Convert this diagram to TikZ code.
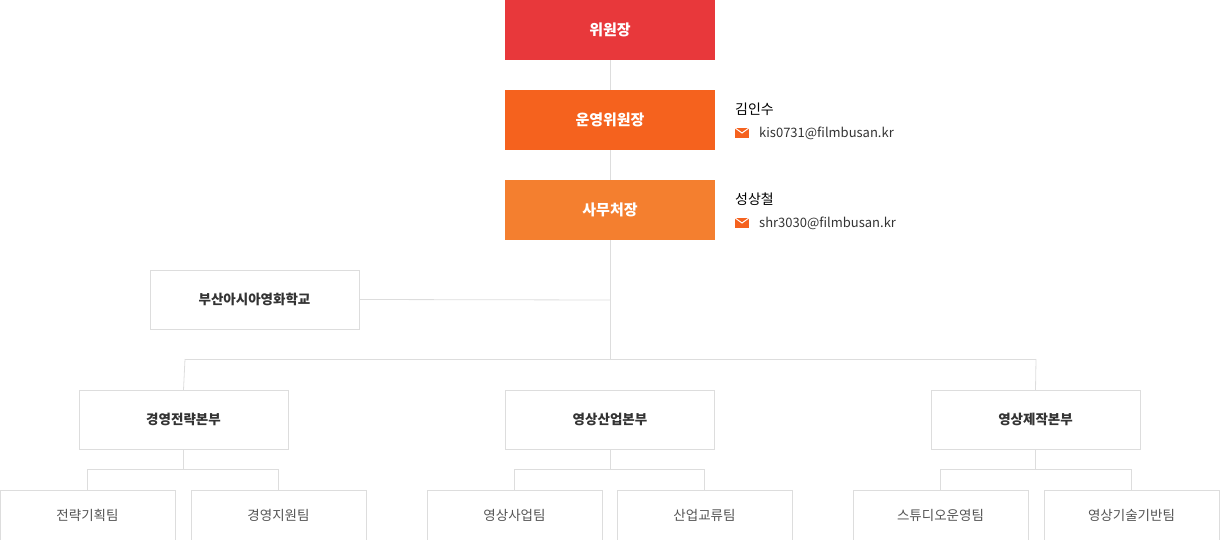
\documentclass[tikz,border=0pt]{standalone}
\usepackage{fontspec}
\setmainfont{Noto Sans CJK KR}
\definecolor{cred}{HTML}{E8383B}
\definecolor{corg}{HTML}{F5621E}
\definecolor{corg2}{HTML}{F47F2F}
\definecolor{cline}{HTML}{DDDDDD}
\definecolor{ctxt}{HTML}{333333}
\definecolor{cgray}{HTML}{555555}
\begin{document}
\begin{tikzpicture}[x=1pt,y=-1pt,
  top/.style={minimum width=210pt,minimum height=60pt,inner sep=0,text=white,font=\fontsize{15}{18}\selectfont\bfseries},
  mid/.style={draw=cline,fill=white,minimum width=209pt,minimum height=59pt,inner sep=0,text=ctxt,font=\fontsize{13.5}{16}\selectfont\bfseries},
  bot/.style={draw=cline,fill=white,minimum width=175pt,minimum height=50pt,inner sep=0,text=cgray,font=\fontsize{13.5}{16}\selectfont},
  ln/.style={draw=cline,line width=0.8pt},
  nm/.style={anchor=west,inner sep=0,text=black,font=\fontsize{14}{16}\selectfont},
  em/.style={anchor=west,inner sep=0,text=ctxt,font=\fontsize{13}{15}\selectfont},
  env/.style={fill=corg,minimum width=14pt,minimum height=10pt,inner sep=0}]
\useasboundingbox (0,0) rectangle (1220,540);
\coordinate (jS) at (610,300);
\coordinate (jH) at (610,359);
\coordinate (hL) at (185,359);
\coordinate (hR) at (1036,359);
\draw[ln] (610,60) -- (jH);
\draw[ln] (hL) -- (hR);
\node[top,fill=cred] (t1) at (610,30) {위원장};
\node[top,fill=corg] (t2) at (610,120) {운영위원장};
\node[top,fill=corg2] (t3) at (610,210) {사무처장};
\node[mid] (sch) at (254.5,299.5) {부산아시아영화학교};
\draw[ln] (sch.east) -- (jS);
\node[mid] (m1) at (183.5,419.5) {경영전략본부};
\node[mid] (m2) at (610,419.5) {영상산업본부};
\node[mid] (m3) at (1035.5,419.5) {영상제작본부};
\draw[ln] (hL) -- (m1.north);
\draw[ln] (hR) -- (m3.north);
\node[bot] (b1) at (87.5,515) {전략기획팀};
\node[bot] (b2) at (278.5,515) {경영지원팀};
\node[bot] (b3) at (514.5,515) {영상사업팀};
\node[bot] (b4) at (704.5,515) {산업교류팀};
\node[bot] (b5) at (940.5,515) {스튜디오운영팀};
\node[bot] (b6) at (1131.5,515) {영상기술기반팀};
\foreach \m/\a/\b in {m1/b1/b2,m2/b3/b4,m3/b5/b6}{
  \draw[ln] (\m.south) -- (\m.south |- 0,469);
  \draw[ln] (\a.north) -- (\a.north |- 0,469) -| (\b.north);
}
\node[nm] (n1) at (735,109) {김인수};
\node[env] (e1) at (742,133) {};
\draw[white,line width=1pt] (e1.north west) -- (e1.center) -- (e1.north east);
\node[em] (m1e) at (759,133) {kis0731@filmbusan.kr};
\node[nm] (n2) at (735,199) {성상철};
\node[env] (e2) at (742,223) {};
\draw[white,line width=1pt] (e2.north west) -- (e2.center) -- (e2.north east);
\node[em] (m2e) at (759,223) {shr3030@filmbusan.kr};
\end{tikzpicture}
\end{document}
